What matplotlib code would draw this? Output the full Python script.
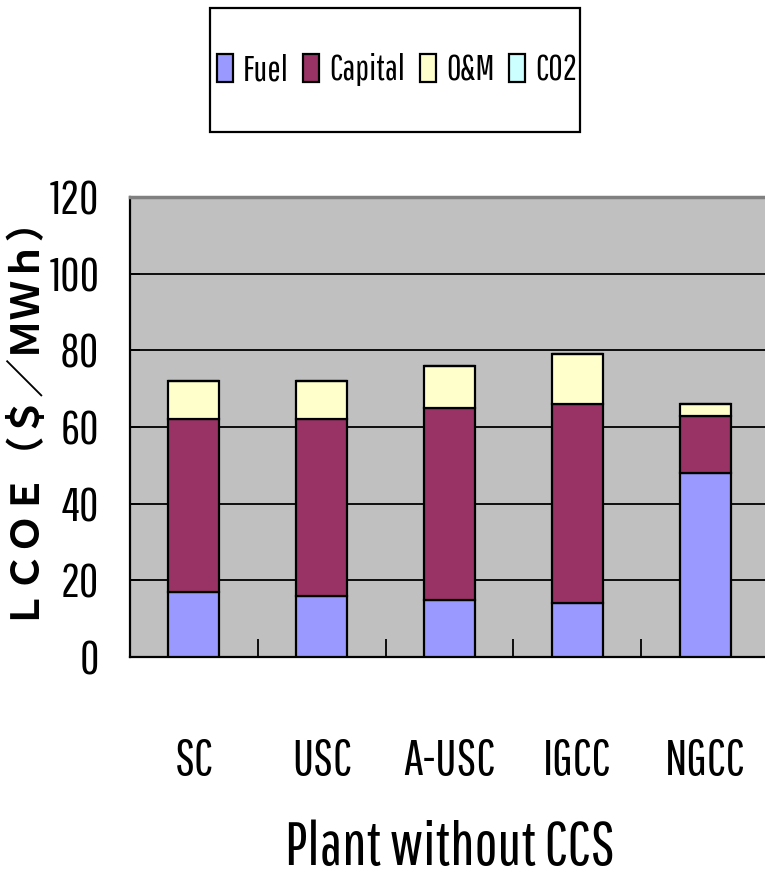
import numpy as np
import matplotlib
matplotlib.use("Agg")
import matplotlib.pyplot as plt
from matplotlib.patches import Rectangle, Patch

# LCOE breakdown, $/MWh
plants = ["SC", "USC", "A-USC", "IGCC", "NGCC"]
fuel = [17, 16, 15, 14, 48]
capital = [45, 46, 50, 52, 15]
om = [10, 10, 11, 13, 3]
co2 = [0, 0, 0, 0, 0]

series_names = ["Fuel", "Capital", "O&M", "CO2"]
colors = ["#9999FF", "#993366", "#FFFFCC", "#CCFFFF"]

narrow = ["Pathway Gothic One", "Roboto Condensed", "Liberation Sans", "DejaVu Sans"]
cjk = ["Noto Sans CJK JP", "IPAGothic", "DejaVu Sans"]

W, H = 765, 876
fig = plt.figure(figsize=(W / 100, H / 100), dpi=100)
ax = fig.add_axes([130 / W, 1 - 657 / H, 639 / W, 460 / H])
ax.set_facecolor("#C0C0C0")

x = np.arange(len(plants))
bottom = np.zeros(len(plants))
for name, vals, c in zip(series_names, [fuel, capital, om, co2], colors):
    vals = np.array(vals, dtype=float)
    ax.bar(x, vals, width=0.4, bottom=bottom, color=c, edgecolor="black",
           linewidth=1.6, zorder=3)
    bottom += vals

ax.set_xlim(-0.5, len(plants) - 0.5)
ax.set_ylim(0, 120)
ax.set_yticks(np.arange(0, 121, 20))
ax.yaxis.grid(True, color="black", linewidth=1.3, zorder=1)
ax.set_axisbelow(True)

ax.set_xticks(x)
ax.set_xticklabels(plants, family=narrow, fontsize=36)
ax.set_xticks(np.arange(0.5, len(plants) - 0.5, 1), minor=True)
ax.tick_params(axis="x", which="major", length=0, pad=58)
ax.tick_params(axis="x", which="minor", direction="in", length=13,
               width=1.3, color="black")
ax.tick_params(axis="y", direction="in", length=7, width=1.3, pad=22)
for lab in ax.get_yticklabels():
    lab.set_family(narrow)
    lab.set_fontsize(34)

for side in ["left", "bottom"]:
    ax.spines[side].set_color("black")
    ax.spines[side].set_linewidth(1.6)
ax.spines["right"].set_visible(False)
ax.spines["top"].set_color("#808080")
ax.spines["top"].set_linewidth(2.5)

ax.set_ylabel("ＬＣＯＥ（＄／ＭＷｈ）", family=cjk, fontsize=28,
              fontweight="bold", va="center")
ax.yaxis.set_label_coords(-112 / 639, 252 / 460)
ax.set_xlabel("Plant without CCS", family=narrow, fontsize=44, labelpad=26)

# legend inside a framed box above the plot
fig.patches.append(Rectangle((210 / W, 1 - 132 / H), 370 / W, 124 / H,
                             transform=fig.transFigure, fill=False,
                             edgecolor="black", linewidth=1.6))
handles = [Patch(facecolor=c, edgecolor="black", linewidth=1.6) for c in colors]
fig.legend(handles, series_names, loc="center", ncol=4, frameon=False,
           bbox_to_anchor=(397 / W, 1 - 70 / H), prop={"family": narrow, "size": 25.5},
           handlelength=0.45, handleheight=0.85, handletextpad=0.3,
           columnspacing=0.4)

fig.savefig("out.png", dpi=100)
